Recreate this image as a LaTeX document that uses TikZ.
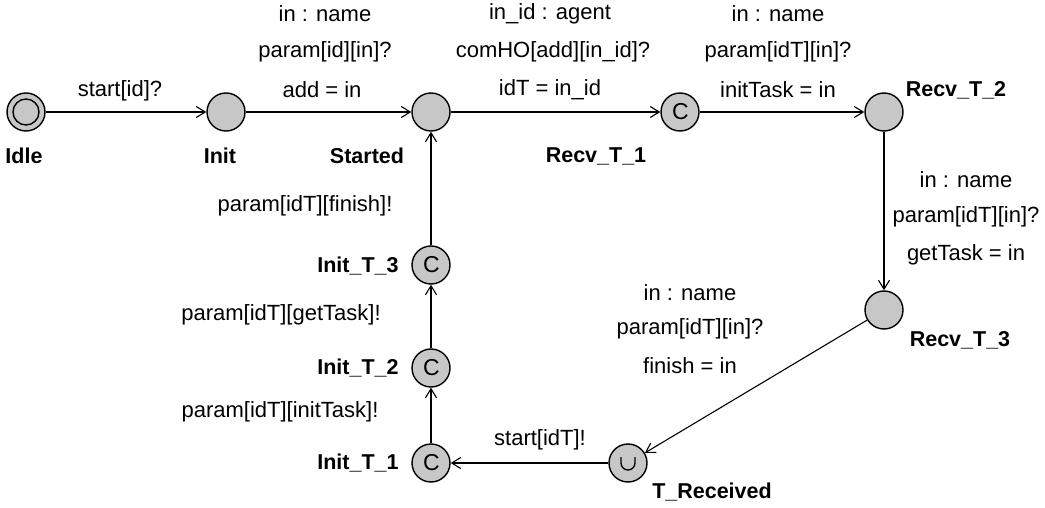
\documentclass[tikz,border=0pt]{standalone}
\usepackage{fontspec}
\setmainfont{Liberation Sans}
\usetikzlibrary{arrows.meta}
\begin{document}
\begin{tikzpicture}[x=1pt,y=-1pt,
  loc/.style={circle,draw,line width=1.4pt,fill=black!22,minimum size=38pt,inner sep=0pt},
  lname/.style={font=\fontsize{21.5}{24}\selectfont\bfseries,inner sep=0pt},
  elab/.style={font=\fontsize{22}{25}\selectfont,inner sep=0pt},
  cmark/.style={font=\fontsize{23}{26}\selectfont,inner sep=0pt},
  trans/.style={line width=1.1pt,-{Straight Barb[length=9pt,width=11pt,line width=1.1pt]}}]
\useasboundingbox (0,0) rectangle (1045,508);
% locations
\node[loc] (idle) at (26,112) {};
\draw[line width=1.4pt] (idle.center) circle (13pt);
\node[loc] (init) at (226,112) {};
\node[loc] (started) at (431,112) {};
\node[loc] (r1) at (680,112) {};
\node[loc] (r2) at (884,112) {};
\node[loc] (r3) at (884,310) {};
\node[loc] (tr) at (628,463) {};
\node[loc] (i1) at (431,463) {};
\node[loc] (i2) at (431,368) {};
\node[loc] (i3) at (431,265) {};
% committed / urgent marks
\foreach \n in {r1,i1,i2,i3}{
  \node[cmark] at ([xshift=0.5pt]\n.center) {C};
}
\draw[line width=1.3pt] ([xshift=-7pt,yshift=6pt]tr.center) -- ([xshift=-7pt,yshift=0pt]tr.center)
  arc[start angle=180,end angle=360,radius=7pt] -- ([xshift=7pt,yshift=6pt]tr.center);
% location names
\node[lname] (nidle) at (24,156) {Idle};
\node[lname] (ninit) at (220,156) {Init};
\node[lname] (nstarted) at (367,156) {Started};
\node[lname] (nr1) at (596,156) {Recv\_T\_1};
\node[lname] (nr2) at (956,90) {Recv\_T\_2};
\node[lname] (nr3) at (960,340) {Recv\_T\_3};
\node[lname] (ntr) at (712,492) {T\_Received};
\node[lname] (ni3) at (358,266) {Init\_T\_3};
\node[lname] (ni2) at (358,368) {Init\_T\_2};
\node[lname] (ni1) at (358,463) {Init\_T\_1};
% transitions
\draw[trans] (idle) -- (init);
\draw[trans] (init) -- (started);
\draw[trans] (started) -- (r1);
\draw[trans] (r1) -- (r2);
\draw[trans] (r2) -- (r3);
\draw[trans] (r3) -- (tr);
\draw[trans] (tr) -- (i1);
\draw[trans] (i1) -- (i2);
\draw[trans] (i2) -- (i3);
\draw[trans] (i3) -- (started);
% edge labels
\node[elab] (e1) at (120,91) {start[id]?};
\node[elab] (e2a) at (325,14) {in : name};
\node[elab] (e2b) at (325,52) {param[id][in]?};
\node[elab] (e2c) at (322,90) {add = in};
\node[elab] (e3a) at (550,14) {in\_id : agent};
\node[elab] (e3b) at (553,52) {comHO[add][in\_id]?};
\node[elab] (e3c) at (550,90) {idT = in\_id};
\node[elab] (e4a) at (778,14) {in : name};
\node[elab] (e4b) at (778,52) {param[idT][in]?};
\node[elab] (e4c) at (778,90) {initTask = in};
\node[elab] (e5a) at (966,180) {in : name};
\node[elab] (e5b) at (966,217) {param[idT][in]?};
\node[elab] (e5c) at (966,255) {getTask = in};
\node[elab] (e6a) at (690,293) {in : name};
\node[elab] (e6b) at (690,329) {param[idT][in]?};
\node[elab] (e6c) at (690,366) {finish = in};
\node[elab] (e7) at (540,440) {start[idT]!};
\node[elab] (e8) at (280,412) {param[idT][initTask]!};
\node[elab] (e9) at (281,315) {param[idT][getTask]!};
\node[elab] (e10) at (305,206) {param[idT][finish]!};
\end{tikzpicture}
\end{document}
